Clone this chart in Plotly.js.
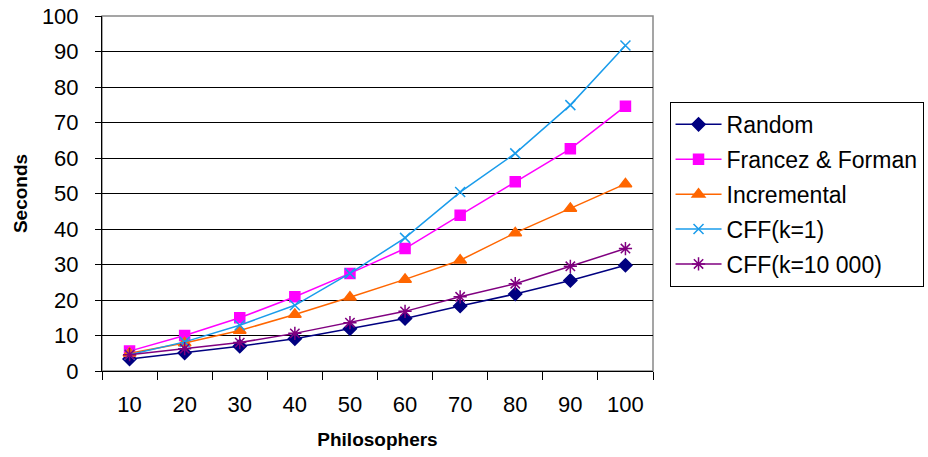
<!DOCTYPE html>
<html>
<head>
<meta charset="utf-8">
<script src="https://cdn.plot.ly/plotly-3.0.1.min.js"></script>
<style>html,body{margin:0;padding:0;background:#fff;}#chart{width:928px;height:457px;}</style>
</head>
<body>
<div id="chart"></div>
<script>
const philosophers = ["10","20","30","40","50","60","70","80","90","100"];
const randomSec     = [3.4, 5.1, 7.0, 9.1, 11.9, 14.8, 18.3, 21.7, 25.5, 29.8];
const francezForman = [5.6, 10.0, 15.0, 20.9, 27.5, 34.5, 43.9, 53.3, 62.6, 74.6];
const incremental   = [5.0, 7.9, 11.4, 15.9, 20.8, 25.8, 31.2, 38.9, 45.8, 52.7];
const cffK1         = [4.6, 8.2, 12.9, 18.5, 27.5, 37.5, 50.4, 61.3, 74.9, 91.7];
const cffK10000     = [4.6, 6.3, 8.0, 10.6, 13.6, 16.8, 20.9, 24.6, 29.5, 34.5];
const yTicks = [0,10,20,30,40,50,60,70,80,90,100];

const F = '"Liberation Sans", Arial, sans-serif';
function tr(name, y, color, symbol, size) {
  return {
    type: 'scatter', mode: 'lines+markers', name: name, x: philosophers, y: y,
    legendgroup: name,
    line: {color: color, width: 1.5},
    marker: {symbol: symbol, size: size, color: color, line: {color: color, width: 1.5}}
  };
}
const data = [
  tr('Random', randomSec, '#000080', 'diamond', 10),
  tr('Francez & Forman', francezForman, '#FF00FF', 'square', 10),
  tr('Incremental', incremental, '#FF6600', 'triangle-up', 11),
  tr('CFF(k=1)', cffK1, '#1A9CEB', 'x-thin', 10),
  tr('CFF(k=10 000)', cffK10000, '#800080', 'asterisk', 11)
];
const layout = {
  width: 928, height: 457,
  margin: {l: 102, r: 275, t: 16, b: 86, autoexpand: false},
  paper_bgcolor: '#fff', plot_bgcolor: '#fff',
  font: {family: F, size: 22, color: '#000'},
  showlegend: true,
  legend: {
    x: 1.03, y: 0.758, xanchor: 'left', yanchor: 'top',
    bordercolor: '#000', borderwidth: 1, bgcolor: '#fff',
    font: {family: F, size: 23, color: '#000'},
    traceorder: 'grouped', tracegroupgap: 2, itemwidth: 46
  },
  xaxis: {
    type: 'category', tickson: 'boundaries', range: [-0.5, 9.5], autorange: false,
    ticks: 'outside', ticklen: 8, tickcolor: '#000', tickwidth: 1,
    showline: true, linecolor: '#000', linewidth: 1,
    showgrid: false, zeroline: false,
    ticklabelstandoff: 14,
    tickfont: {family: F, size: 22, color: '#000'},
    title: {text: 'Philosophers', font: {family: F, size: 19, color: '#000', weight: 'bold'}, standoff: 16}
  },
  yaxis: {
    range: [0, 100], autorange: false, tickvals: yTicks, ticktext: yTicks.map(String),
    ticks: 'outside', ticklen: 6, tickcolor: '#000', tickwidth: 1,
    showline: true, linecolor: '#000', linewidth: 1,
    showgrid: true, gridcolor: '#000', gridwidth: 1,
    zeroline: false,
    ticklabelstandoff: 12,
    tickfont: {family: F, size: 22, color: '#000'},
    title: {text: 'Seconds', font: {family: F, size: 19, color: '#000', weight: 'bold'}, standoff: 9}
  },
  shapes: [{type: 'rect', xref: 'paper', yref: 'paper', x0: 0, x1: 1, y0: 0, y1: 1,
            line: {color: '#888', width: 1.5}, layer: 'below'}]
};
Plotly.newPlot('chart', data, layout, {displayModeBar: false, staticPlot: true});
</script>
</body>
</html>
